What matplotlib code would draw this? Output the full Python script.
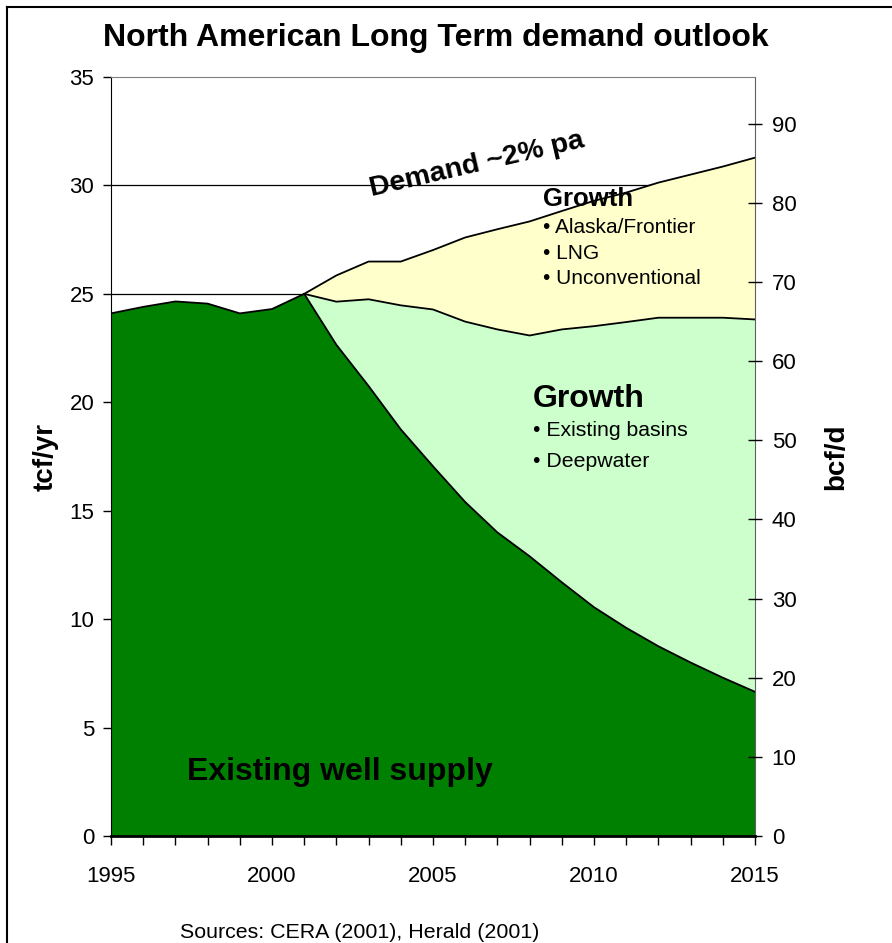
import matplotlib
matplotlib.use('Agg')
import matplotlib.pyplot as plt
import numpy as np
from matplotlib.lines import Line2D

plt.rcParams['font.family'] = ['Liberation Sans', 'DejaVu Sans']

# data (tcf/yr)
years = list(range(1995, 2016))
existing = [24.1, 24.4, 24.65, 24.55, 24.1, 24.3, 25.0, 22.65, 20.75, 18.75, 17.05,
            15.4, 14.0, 12.9, 11.7, 10.55, 9.6, 8.75, 8.0, 7.3, 6.65]
growth_years = list(range(2001, 2016))
basins_top = [25.0, 24.64, 24.75, 24.47, 24.28, 23.72, 23.36, 23.08, 23.36, 23.51,
              23.7, 23.9, 23.9, 23.9, 23.82]
demand = [25.0, 25.85, 26.49, 26.49, 27.02, 27.6, 27.98, 28.34, 28.82, 29.29,
          29.67, 30.13, 30.5, 30.87, 31.28]
left_ticks = [0, 5, 10, 15, 20, 25, 30, 35]
right_ticks = [0, 10, 20, 30, 40, 50, 60, 70, 80, 90]
x_labels = [1995, 2000, 2005, 2010, 2015]

fig = plt.figure(figsize=(8.92, 9.43), dpi=100)
ax = fig.add_axes([111 / 892, 107 / 943, 644 / 892, 759 / 943])

# gridlines behind the areas
for t in left_ticks[1:-1]:
    ax.axhline(t, color='black', lw=0.9, zorder=0.5)

gy = np.array(growth_years)
ex_g = np.array(existing[6:])
ax.fill_between(gy, np.array(basins_top), np.array(demand), facecolor='#FFFFCC',
                edgecolor='none', zorder=1)
ax.fill_between(gy, ex_g, np.array(basins_top), facecolor='#CCFFCC',
                edgecolor='none', zorder=1)
ax.fill_between(years, 0, existing, facecolor='#008000', edgecolor='none', zorder=1)
ax.plot(gy, demand, color='black', lw=1.3, zorder=2)
ax.plot(gy, basins_top, color='black', lw=1.3, zorder=2)
ax.plot(years, existing, color='black', lw=1.3, zorder=2)

ax.set_xlim(1995, 2015)
ax.set_ylim(0, 35)
ax.set_yticks(left_ticks)
ax.set_xticks(years)
ax.set_xticklabels([str(y) if y in x_labels else '' for y in years])
ax.tick_params(axis='y', direction='out', length=6, width=1, labelsize=16, pad=6)
ax.tick_params(axis='x', direction='out', length=6.5, width=1, labelsize=16, pad=15)

ax.spines['top'].set_color('#808080')
ax.spines['right'].set_color('#606060')
ax.spines['bottom'].set_linewidth(2)

ax2 = ax.twinx()
ax2.set_ylim(0, 35 * 1000 / 365)
ax2.set_yticks(right_ticks)
ax2.tick_params(axis='y', direction='inout', length=10, width=1, labelsize=16, pad=7)
for s in ax2.spines.values():
    s.set_visible(False)

# annotations
ax.text(2006.35, 30.98, 'Demand ~2% pa', rotation=13, fontsize=20.5, fontweight='bold',
        ha='center', va='center', zorder=3)
ax.text(2008.42, 29.36, 'Growth', fontsize=18.5, fontweight='bold', ha='left',
        va='center', zorder=3)
for yv, txt in zip([28.07, 26.87, 25.72], ['Alaska/Frontier', 'LNG', 'Unconventional']):
    ax.text(2008.42, yv, '\u2022 ' + txt, fontsize=15, ha='left', va='center', zorder=3)
ax.text(2008.1, 20.13, 'Growth', fontsize=23, fontweight='bold', ha='left',
        va='center', zorder=3)
for yv, txt in zip([18.7, 17.27], ['Existing basins', 'Deepwater']):
    ax.text(2008.1, yv, '\u2022 ' + txt, fontsize=15.3, ha='left', va='center', zorder=3)
ax.text(1997.36, 2.95, 'Existing well supply', fontsize=23, fontweight='bold',
        ha='left', va='center', zorder=3)

fig.text(436 / 892, 1 - 38 / 943, 'North American Long Term demand outlook', fontsize=23,
         fontweight='bold', ha='center', va='center')
fig.text(46 / 892, 1 - 457 / 943, 'tcf/yr', fontsize=20, fontweight='bold', rotation=90,
         ha='center', va='center')
fig.text(836 / 892, 1 - 457 / 943, 'bcf/d', fontsize=20, fontweight='bold', rotation=90,
         ha='center', va='center')
fig.text(180 / 892, 1 - 932 / 943, 'Sources: CERA (2001), Herald (2001)', fontsize=15.4,
         ha='left', va='center')

# outer frame (top and left edges)
fig.add_artist(Line2D([7 / 892, 1.0], [1 - 7 / 943, 1 - 7 / 943], color='black', lw=1.5))
fig.add_artist(Line2D([7 / 892, 7 / 892], [0.0, 1 - 7 / 943], color='black', lw=1.5))

fig.savefig('out.png', dpi=100)
